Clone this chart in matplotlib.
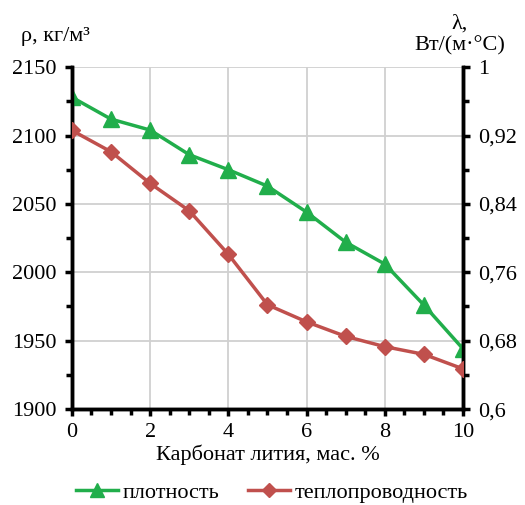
import matplotlib
matplotlib.use("Agg")
import matplotlib.pyplot as plt
from matplotlib.ticker import MultipleLocator
from matplotlib.lines import Line2D

plt.rcParams['font.family'] = ['Liberation Serif', 'DejaVu Serif']

x = [0, 1, 2, 3, 4, 5, 6, 7, 8, 9, 10]
density = [2128, 2112, 2104, 2086, 2075, 2063, 2044, 2022, 2006, 1976, 1944]
conductivity = [0.926, 0.901, 0.864, 0.832, 0.781, 0.722, 0.702, 0.685, 0.673, 0.664, 0.647]

left_ticks = [1900, 1950, 2000, 2050, 2100, 2150]
right_ticks = [0.6, 0.68, 0.76, 0.84, 0.92, 1.0]
right_labels = ['0,6', '0,68', '0,76', '0,84', '0,92', '1']
x_ticks = [0, 2, 4, 6, 8, 10]

green = '#21AE4B'
red = '#C0504D'

fig = plt.figure(figsize=(5.25, 5.05), dpi=100)
ax = fig.add_axes([0.137, 0.190, 0.745, 0.677])
ax2 = ax.twinx()

ax.plot(x, density, color=green, lw=2.5, marker='^', ms=11, zorder=3)
ax2.plot(x, conductivity, color=red, lw=2.5, marker='D', ms=8, zorder=3)

ax.set_xlim(0, 10)
ax.set_ylim(1900, 2150)
ax2.set_ylim(0.6, 1.0)

ax.set_yticks(left_ticks)
ax.yaxis.set_minor_locator(MultipleLocator(25))
ax2.set_yticks(right_ticks)
ax2.set_yticklabels(right_labels)
ax2.yaxis.set_minor_locator(MultipleLocator(0.04))
ax.set_xticks(x_ticks)
ax.xaxis.set_minor_locator(MultipleLocator(0.5))

ax.grid(True, which='major', color='#D0D0D0', lw=1.3)
ax.set_axisbelow(True)

for a in (ax, ax2):
    a.spines['top'].set_visible(False)
    for s in ('left', 'right', 'bottom'):
        a.spines[s].set_linewidth(2.5)
        a.spines[s].set_color('black')
    a.tick_params(which='both', direction='out', width=2.5, length=5, labelsize=16, colors='black')
    a.tick_params(which='minor', length=4)

ax.tick_params(axis='y', pad=6)
ax2.tick_params(axis='y', pad=6)
ax.tick_params(axis='x', pad=5)

ax.set_xlabel('Карбонат лития, мас. %', fontsize=16, labelpad=2)

fig.text(0.040, 0.927, 'ρ, кг/м³', fontsize=16, ha='left', va='center')
fig.text(0.876, 0.952, 'λ,', fontsize=16, ha='center', va='center')
fig.text(0.876, 0.909, 'Вт/(м·°С)', fontsize=16, ha='center', va='center')

handles = [Line2D([0], [0], color=green, lw=2.5, marker='^', ms=10),
           Line2D([0], [0], color=red, lw=2.5, marker='D', ms=7)]
fig.legend(handles, ['плотность', 'теплопроводность'], loc='center', bbox_to_anchor=(0.518, 0.025),
           ncol=2, frameon=False, fontsize=16, handlelength=1.9, columnspacing=1.3, handletextpad=0.2)

fig.savefig('out.png', dpi=100)
